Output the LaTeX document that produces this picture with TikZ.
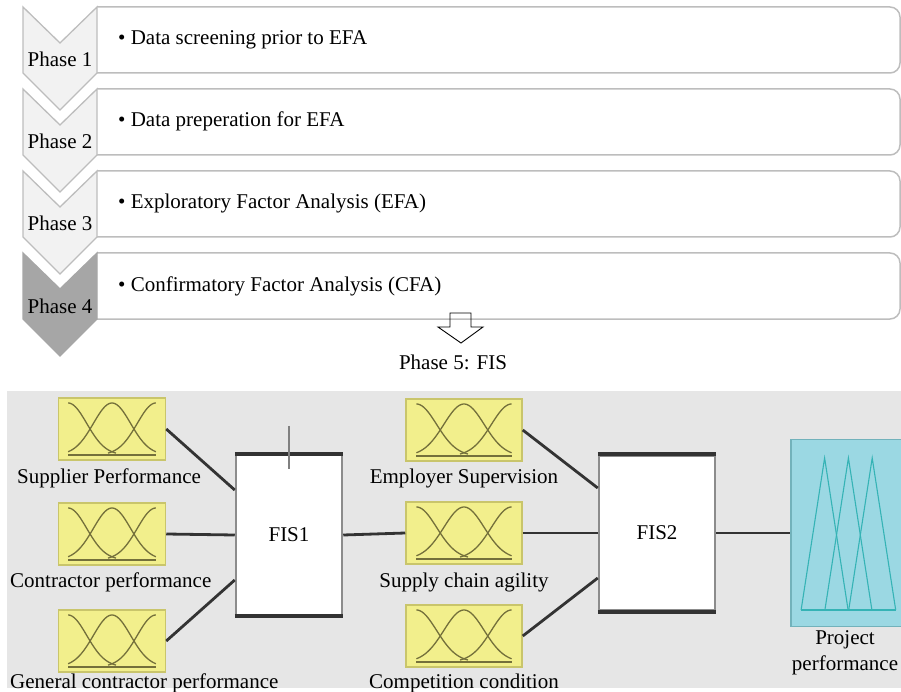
\documentclass[tikz,border=0pt]{standalone}
\usepackage{fontspec}
\setmainfont{Liberation Serif}
\usetikzlibrary{positioning,calc}

\definecolor{chevgray}{HTML}{F2F2F2}
\definecolor{chevdark}{HTML}{A6A6A6}
\definecolor{edgegray}{HTML}{BDBDBD}
\definecolor{panelgray}{HTML}{E6E6E6}
\definecolor{mfyellow}{HTML}{F2EF8C}
\definecolor{mfedge}{HTML}{C9C56B}
\definecolor{mfcurve}{HTML}{74703B}
\definecolor{outcyan}{HTML}{9BD8E3}
\definecolor{outedge}{HTML}{72B2BB}
\definecolor{outline}{HTML}{35B3B5}
\definecolor{linkgray}{HTML}{333333}

\tikzset{
  chevron/.style={draw=edgegray, line width=1.3pt, fill=chevgray, line join=miter},
  phasebox/.style={draw=edgegray, line width=1.5pt, rounded corners=10pt},
  mfbox/.style={draw=mfedge, line width=1.5pt, fill=mfyellow, minimum height=62pt, inner sep=0pt},
  gauss/.style={draw=mfcurve, line width=1.3pt},
  fisbox/.style={draw=gray!90, line width=2.5pt, fill=white, inner sep=0pt},
  fisedge/.style={draw=linkgray, line width=4pt},
  link/.style={draw=linkgray, line width=2.8pt},
  tri/.style={draw=outline, line width=1.1pt}
}

\begin{document}
\begin{tikzpicture}[x=1pt,y=-1pt,every node/.style={font=\fontsize{21}{26}\selectfont}]
\clip (0,0) rectangle (901,692);

% phases 1 to 4
\foreach \n/\t/\v in {1/7/Data screening prior to EFA,2/89/Data preperation for EFA,3/171/Exploratory Factor Analysis (EFA),4/253/Confirmatory Factor Analysis (CFA)}
{
  \begin{scope}
    \clip (97,\t-5) rectangle (901,\t+75);
    \draw[phasebox] (70,\t) rectangle (900,\t+66);
  \end{scope}
  \node[anchor=base west,inner sep=0pt] (t\n) at (118,\t+38) {\textbullet\ \v};
}
\foreach \n/\t in {1/7,2/89,3/171}
\draw[chevron] (23,\t) -- (60,\t+36) -- (97,\t) -- (97,\t+66) -- (60,\t+103) -- (23,\t+66) -- cycle;
\draw[chevron,draw=chevdark,fill=chevdark] (23,253) -- (60,289) -- (97,253) -- (97,319) -- (60,356) -- (23,319) -- cycle;
\foreach \n/\t in {1/7,2/89,3/171,4/253}
\node[anchor=base,inner sep=0pt] (p\n) at (60,\t+60) {Phase \n};

% phase 5
\draw[line width=0.9pt] (450,313) -- (471,313) -- (471,327) -- (483,327) -- (461,343) -- (438,327) -- (450,327) -- cycle;
\node[anchor=base] (p5) at (453,369) {Phase 5: FIS};

\fill[panelgray] (7,391) rectangle (901,688);

% membership function boxes
\foreach \n/\cx/\cy/\w in {s1/112/429/107,s2/112/534/107,s3/112/641/107,e1/464/430/116,e2/464/533/116,e3/464/636/116}
{
  \node[mfbox,minimum width=\w pt] (\n) at (\cx,\cy) {};
  \pgfmathsetmacro\hc{0.41*\w}
  \pgfmathsetmacro\ss{2*(0.4247*\hc)^2}
  \begin{scope}[shift={(\n.center)}]
    \draw[gauss] plot[domain=-\hc:4,samples=40,smooth] (\x,{26-52*exp(-((\x+\hc)*(\x+\hc))/\ss)});
    \draw[gauss] plot[domain=-\hc:\hc,samples=60,smooth] (\x,{26-52*exp(-((\x)*(\x))/\ss)});
    \draw[gauss] plot[domain=-4:\hc,samples=40,smooth] (\x,{26-52*exp(-((\x-\hc)*(\x-\hc))/\ss)});
    \draw[gauss] (-\hc,26) -- (\hc,26);
  \end{scope}
}
\node[anchor=base west,inner sep=0pt] (ls1) at (17,483) {Supplier Performance};
\node[anchor=base west,inner sep=0pt] (ls2) at (10,587) {Contractor performance};
\node[anchor=base west,inner sep=0pt] (ls3) at (10,688) {General contractor performance};
\node[anchor=base,inner sep=0pt] (le1) at (464,483) {Employer Supervision};
\node[anchor=base,inner sep=0pt] (le2) at (464,587) {Supply chain agility};
\node[anchor=base,inner sep=0pt] (le3) at (464,688) {Competition condition};

% inference systems
\node[fisbox,minimum width=106pt,minimum height=160pt] (fis1) at (289,535) {FIS1};
\node[fisbox,minimum width=116pt,minimum height=155pt] (fis2) at (657,533) {FIS2};
\foreach \f in {fis1,fis2}
{
  \draw[fisedge] (\f.north west) -- (\f.north east);
  \draw[fisedge] (\f.south west) -- (\f.south east);
}
\draw[gray,line width=1.2pt] ($(fis1.north)+(0,-28)$) -- ($(fis1.north)+(0,15)$);

% output
\node[draw=outedge,line width=1.8pt,fill=outcyan,minimum width=130pt,minimum height=187pt,inner sep=0pt] (pp) at (856,533) {};
\begin{scope}[shift={(pp.west)}]
  \foreach \k in {0,1,2}
  \draw[tri] (11+23.8*\k,77) -- (34.5+23.8*\k,-75) -- (58+23.8*\k,77);
  \draw[tri] (11,77) -- (106,77);
\end{scope}
\node[align=center,anchor=north,inner sep=0pt] (lpp) at (845,630) {Project\\performance};

% connectors
\draw[link] (s1.east) -- ([yshift=45pt]fis1.west);
\draw[link] (s2.east) -- (fis1.west);
\draw[link] (s3.east) -- ([yshift=-45pt]fis1.west);
\draw[link] (fis1.east) -- (e2.west);
\draw[link] (e1.east) -- ([yshift=45pt]fis2.west);
\draw[link] (e2.east) -- (fis2.west);
\draw[link] (e3.east) -- ([yshift=-45pt]fis2.west);
\draw[link] (fis2.east) -- (pp.west);

\end{tikzpicture}
\end{document}
